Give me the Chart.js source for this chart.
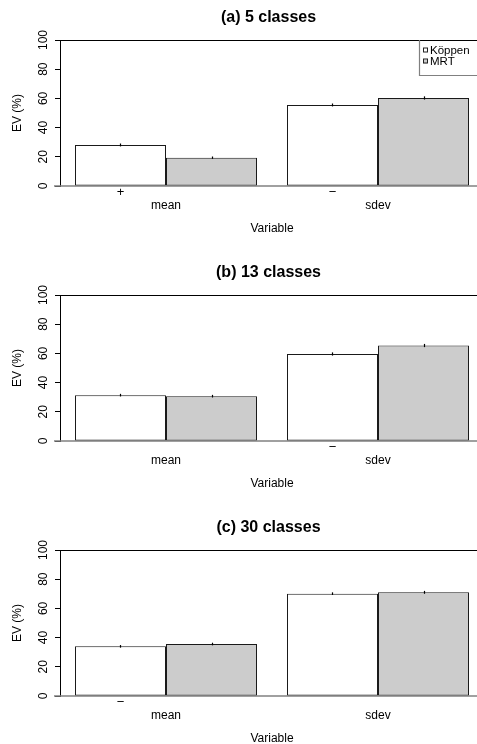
<!DOCTYPE html>
<html><head><meta charset="utf-8">
<script src="https://cdn.jsdelivr.net/npm/chart.js@4.4.0/dist/chart.umd.min.js"></script>
<style>
html,body{margin:0;padding:0;background:#fff;overflow:hidden;}
#wrap{position:relative;width:477px;height:744px;overflow:hidden;background:#fff;}
canvas{position:absolute;left:0;}
</style></head><body>
<div id="wrap">
<canvas id="ca" width="490" height="240" style="top:0px"></canvas>
<canvas id="cb" width="490" height="240" style="top:255px"></canvas>
<canvas id="cc" width="490" height="240" style="top:510px"></canvas>
</div>
<script>
// ---- data ----
const categories = ['mean', 'sdev'];
const seriesNames = ['Köppen', 'MRT'];
const titles = ['(a) 5 classes', '(b) 13 classes', '(c) 30 classes'];
const yTicks = [0, 20, 40, 60, 80, 100];
const xTitle = 'Variable';
const yTitle = 'EV (%)';

const koppenA = [28.1, 55.5];
const mrtA = [19.4, 60.3];
const koppenErrA = [1.0, 1.0];
const mrtErrA = [0.8, 1.1];
const koppenSignA = ['+', '\u2212'];

const koppenB = [31.4, 59.6];
const mrtB = [30.7, 65.4];
const koppenErrB = [0.9, 1.1];
const mrtErrB = [0.9, 1.1];
const koppenSignB = ['', '\u2212'];

const koppenC = [34.0, 70.1];
const mrtC = [35.6, 71.0];
const koppenErrC = [0.9, 0.9];
const mrtErrC = [0.9, 1.0];
const koppenSignC = ['\u2212', ''];

// ---- styling ----
Chart.defaults.font.family = '"Liberation Sans", Arial, Helvetica, sans-serif';
Chart.defaults.font.size = 12;
Chart.defaults.color = '#000';

const decor = {
  id: 'decor',
  beforeDatasetsDraw(chart) {
    const ctx = chart.ctx, y = chart.scales.y;
    const y0 = y.getPixelForValue(0);
    ctx.save();
    ctx.strokeStyle = '#808080';
    ctx.lineWidth = 1.5;
    ctx.beginPath();
    ctx.moveTo(54, y0);
    ctx.lineTo(chart.width, y0);
    ctx.stroke();
    ctx.restore();
  },
  afterDatasetsDraw(chart, args, opts) {
    const ctx = chart.ctx, y = chart.scales.y, ca = chart.chartArea;
    const y0 = y.getPixelForValue(0);
    ctx.save();
    // error bars and signs
    chart.data.datasets.forEach((ds, i) => {
      const meta = chart.getDatasetMeta(i);
      meta.data.forEach((bar, j) => {
        const v = ds.data[j], e = ds.errors[j];
        ctx.strokeStyle = '#000';
        ctx.lineWidth = 1.2;
        ctx.beginPath();
        ctx.moveTo(Math.round(bar.x) + 0.5, y.getPixelForValue(v - e));
        ctx.lineTo(Math.round(bar.x) + 0.5, y.getPixelForValue(v + e));
        ctx.stroke();
        if (ds.signs && ds.signs[j]) {
          ctx.fillStyle = '#000';
          ctx.font = '13px "Liberation Sans", Arial, sans-serif';
          ctx.textAlign = 'center';
          ctx.textBaseline = 'middle';
          ctx.fillText(ds.signs[j], bar.x, y0 + 6.5);
        }
      });
    });
    // top border
    ctx.strokeStyle = '#000';
    ctx.lineWidth = 1;
    ctx.beginPath();
    ctx.moveTo(ca.left, Math.round(ca.top) + 0.5);
    ctx.lineTo(chart.width, Math.round(ca.top) + 0.5);
    ctx.stroke();
    // legend
    if (opts.legend) {
      const lx = 419.5, top = ca.top;
      ctx.strokeStyle = '#808080';
      ctx.lineWidth = 1.2;
      ctx.beginPath();
      ctx.moveTo(lx, top);
      ctx.lineTo(lx, top + 35.5);
      ctx.lineTo(chart.width, top + 35.5);
      ctx.stroke();
      const rows = [top + 10.5, top + 21.5];
      ctx.lineWidth = 1;
      chart.data.datasets.forEach((ds, i) => {
        ctx.fillStyle = ds.backgroundColor;
        ctx.strokeStyle = '#222';
        ctx.fillRect(423, rows[i] - 2, 4, 4);
        ctx.strokeRect(423.5, rows[i] - 2.5, 4, 4);
        ctx.fillStyle = '#000';
        ctx.font = '11.5px "Liberation Sans", Arial, sans-serif';
        ctx.textAlign = 'left';
        ctx.textBaseline = 'middle';
        ctx.fillText(ds.label, 430, rows[i] + 0.5);
      });
    }
    // main title
    ctx.fillStyle = '#000';
    ctx.font = 'bold 16px "Liberation Sans", Arial, sans-serif';
    ctx.textAlign = 'center';
    ctx.textBaseline = 'middle';
    ctx.fillText(opts.title, (ca.left + 477) / 2, 18);
    ctx.restore();
  }
};

function makeChart(id, title, kop, mrt, kopErr, mrtErr, kopSign, showLegend) {
  return new Chart(document.getElementById(id), {
    type: 'bar',
    data: {
      labels: categories,
      datasets: [
        { label: seriesNames[0], data: kop, errors: kopErr, signs: kopSign,
          backgroundColor: '#ffffff', borderColor: '#1a1a1a', borderWidth: 1, borderSkipped: false,
          categoryPercentage: 0.8585, barPercentage: 1.0 },
        { label: seriesNames[1], data: mrt, errors: mrtErr, signs: null,
          backgroundColor: '#cccccc', borderColor: '#1a1a1a', borderWidth: 1, borderSkipped: false,
          categoryPercentage: 0.8585, barPercentage: 1.0 }
      ]
    },
    options: {
      responsive: false,
      animation: false,
      events: [],
      layout: { padding: { top: 40, right: 6, left: 0, bottom: 0 } },
      plugins: {
        legend: { display: false },
        title: { display: false },
        tooltip: { enabled: false },
        decor: { title: title, legend: showLegend }
      },
      scales: {
        x: {
          afterFit(s) { s.height = 54; },
          grid: { display: false, drawTicks: false },
          border: { display: false },
          ticks: { padding: 12, color: '#000', font: { size: 12 } },
          title: { display: true, text: xTitle, color: '#000', font: { size: 12 }, padding: { top: 0, bottom: 4 } }
        },
        y: {
          min: 0, max: 100,
          afterFit(s) { s.width = 60; },
          afterBuildTicks(s) { s.ticks = yTicks.map(v => ({ value: v })); },
          ticks: { minRotation: 90, maxRotation: 90, crossAlign: 'center', padding: 1, autoSkip: false, color: '#000', font: { size: 12 } },
          grid: { drawOnChartArea: false, drawTicks: true, tickLength: 5, color: '#000' },
          border: { display: true, color: '#000', width: 1 },
          title: { display: true, text: yTitle, color: '#000', font: { size: 12 }, padding: { top: 10, bottom: 0 } }
        }
      }
    },
    plugins: [decor]
  });
}

makeChart('ca', titles[0], koppenA, mrtA, koppenErrA, mrtErrA, koppenSignA, true);
makeChart('cb', titles[1], koppenB, mrtB, koppenErrB, mrtErrB, koppenSignB, false);
makeChart('cc', titles[2], koppenC, mrtC, koppenErrC, mrtErrC, koppenSignC, false);
</script>
</body></html>
